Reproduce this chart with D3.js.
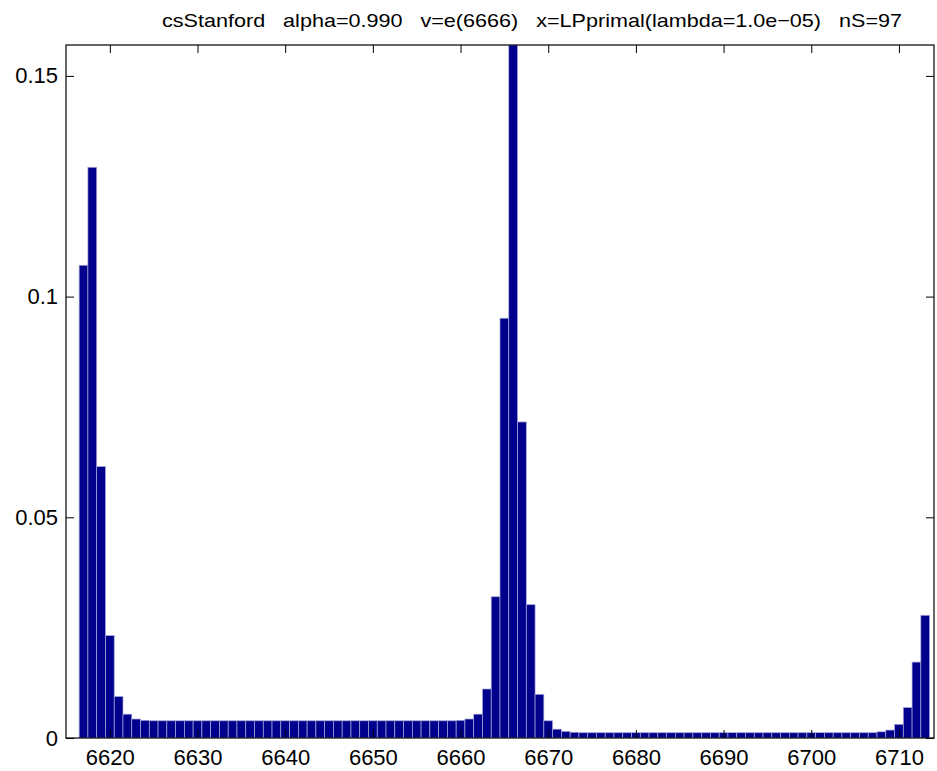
<!DOCTYPE html>
<html>
<head>
<meta charset="utf-8">
<script src="https://cdn.jsdelivr.net/npm/d3@7"></script>
<style>
  html, body { margin: 0; padding: 0; background: #fff; }
  svg { display: block; }
  text { font-family: "Liberation Sans", Arial, Helvetica, sans-serif; fill: #000; }
</style>
</head>
<body>
<svg id="chart" width="937" height="771"></svg>
<script>
// ---- data ----
const titleText = "csStanford   alpha=0.990   v=e(6666)   x=LPprimal(lambda=1.0e\u221205)   nS=97";
const firstState = 6617;
const values = [
  0.1071, 0.1293, 0.0615, 0.0232, 0.0094, 0.0054, 0.0043, 0.0040,
  0.0039, 0.0039, 0.0039, 0.0039, 0.0039, 0.0039, 0.0039, 0.0039, 0.0039, 0.0039,
  0.0039, 0.0039, 0.0039, 0.0039, 0.0039, 0.0039, 0.0039, 0.0039, 0.0039, 0.0039,
  0.0039, 0.0039, 0.0039, 0.0039, 0.0039, 0.0039, 0.0039, 0.0039, 0.0039, 0.0039,
  0.0039, 0.0039, 0.0039, 0.0039, 0.0039, 0.0040,
  0.0043, 0.0054, 0.0111, 0.0320, 0.0951, 0.1570, 0.0716, 0.0302, 0.0099, 0.0039,
  0.0020, 0.0015, 0.0013,
  0.0012, 0.0012, 0.0012, 0.0012, 0.0012, 0.0012, 0.0012, 0.0012, 0.0012, 0.0012,
  0.0012, 0.0012, 0.0012, 0.0012, 0.0012, 0.0012, 0.0012, 0.0012, 0.0012, 0.0012,
  0.0012, 0.0012, 0.0012, 0.0012, 0.0012, 0.0012, 0.0012, 0.0012, 0.0012, 0.0012,
  0.0012, 0.0012, 0.0012, 0.0012,
  0.0014, 0.0018, 0.0031, 0.0069, 0.0172, 0.0278
];
const states = values.map((v, i) => firstState + i);
const xTicks = [6620, 6630, 6640, 6650, 6660, 6670, 6680, 6690, 6700, 6710];
const yTicks = [0, 0.05, 0.1, 0.15];
const yTickLabels = ["0", "0.05", "0.1", "0.15"];
const xDomain = [6615, 6714];
const yDomain = [0, 0.157];

// ---- layout ----
const L = 66, R = 934, T = 45, B = 738;
const svg = d3.select("#chart");
const x = d3.scaleLinear().domain(xDomain).range([L, R]);
const y = d3.scaleLinear().domain(yDomain).range([B, T]);

svg.append("clipPath").attr("id", "clip")
  .append("rect").attr("x", L).attr("y", T).attr("width", R - L).attr("height", B - T);

svg.append("g").attr("clip-path", "url(#clip)")
  .selectAll("rect").data(states).join("rect")
  .attr("x", d => x(d - 0.5))
  .attr("width", d => x(d + 0.5) - x(d - 0.5))
  .attr("y", (d, i) => y(values[i]))
  .attr("height", (d, i) => y(0) - y(values[i]))
  .attr("fill", "#00008C")
  .attr("stroke", "#a8a8dc")
  .attr("stroke-width", 0.7);

const fontSize = 22;
const styleAxis = g => {
  g.select(".domain").remove();
  g.selectAll(".tick line").attr("stroke", "#000").attr("stroke-width", 1);
  g.selectAll(".tick text").attr("font-size", fontSize).attr("font-family", "Liberation Sans, Arial, sans-serif").attr("fill", "#000");
};

svg.append("g").attr("transform", `translate(0,${B})`)
  .call(d3.axisBottom(x).tickValues(xTicks).tickFormat(d3.format("d")).tickSize(-8).tickPadding(11))
  .call(styleAxis);
svg.append("g").attr("transform", `translate(0,${T})`)
  .call(d3.axisTop(x).tickValues(xTicks).tickFormat("").tickSize(-8))
  .call(styleAxis);
svg.append("g").attr("transform", `translate(${L},0)`)
  .call(d3.axisLeft(y).tickValues(yTicks).tickFormat((d, i) => yTickLabels[i]).tickSize(-8).tickPadding(8))
  .call(styleAxis);
svg.append("g").attr("transform", `translate(${R},0)`)
  .call(d3.axisRight(y).tickValues(yTicks).tickFormat("").tickSize(-8))
  .call(styleAxis);

svg.append("rect").attr("x", L).attr("y", T).attr("width", R - L).attr("height", B - T)
  .attr("fill", "none").attr("stroke", "#000").attr("stroke-width", 1.2);

const title = svg.append("text")
  .attr("x", 162).attr("y", 27)
  .attr("font-size", 19)
  .attr("xml:space", "preserve")
  .style("white-space", "pre")
  .text(titleText);
title.attr("textLength", 740).attr("lengthAdjust", "spacingAndGlyphs");
</script>
</body>
</html>
